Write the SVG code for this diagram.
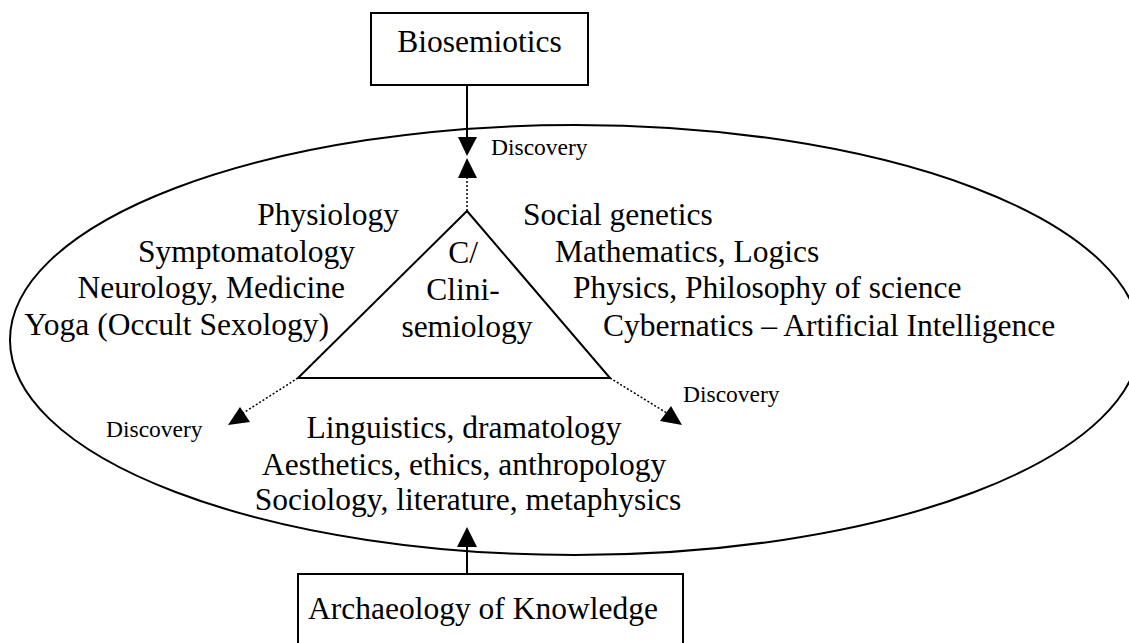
<svg xmlns="http://www.w3.org/2000/svg" width="1129" height="643" viewBox="0 0 1129 643">
<style>
text{font-family:"Liberation Serif","Times New Roman",serif;fill:#000}
.t{font-size:31.5px}
.s{font-size:23.5px}
.box{fill:#fff;stroke:#000;stroke-width:2}
.solid{stroke:#000;stroke-width:2;fill:none}
.dot{stroke:#000;stroke-width:1.5;fill:none;stroke-dasharray:2 2}
.head{fill:#000}
</style>
<rect width="1129" height="643" fill="#fff"/>
<g id="field">
<ellipse cx="575" cy="340" rx="565" ry="215" fill="none" stroke="#000" stroke-width="2"/>
</g>
<g id="connectors">
<line class="solid" x1="467" y1="85" x2="467" y2="140"/>
<polygon class="head" points="458,137 477,137 467,156"/>
<line class="dot" x1="467" y1="211" x2="467" y2="176"/>
<polygon class="head" points="458,178 477,178 467,158"/>
<line class="dot" x1="298" y1="378" x2="240" y2="415"/>
<polygon class="head" points="228,425 240,407 250,422"/>
<line class="dot" x1="610" y1="378" x2="670" y2="415"/>
<polygon class="head" points="682,425 660,421 671,406"/>
<line class="solid" x1="467" y1="574" x2="467" y2="545"/>
<polygon class="head" points="457,547 477,547 467,527"/>
</g>
<g id="biosemiotics">
<rect class="box" x="371" y="13" width="217" height="72"/>
<text class="t" x="479.5" y="52" text-anchor="middle">Biosemiotics</text>
</g>
<g id="archaeology">
<rect class="box" x="298" y="574" width="385" height="75"/>
<text class="t" x="483" y="619" text-anchor="middle">Archaeology of Knowledge</text>
</g>
<g id="clinisemiology">
<polygon points="467,211 610,378 298,378" fill="none" stroke="#000" stroke-width="2"/>
<text class="t" text-anchor="middle">
<tspan x="467" y="263">C/</tspan>
<tspan x="467" y="300">Clini-</tspan>
<tspan x="467" y="337">semiology</tspan>
</text>
</g>
<g id="left-disciplines">
<text class="t" x="399" y="225" text-anchor="end">Physiology</text>
<text class="t" x="355" y="262" text-anchor="end">Symptomatology</text>
<text class="t" x="345" y="298" text-anchor="end">Neurology, Medicine</text>
<text class="t" x="329" y="335" text-anchor="end">Yoga (Occult Sexology)</text>
</g>
<g id="right-disciplines">
<text class="t" x="523" y="225">Social genetics</text>
<text class="t" x="555" y="262">Mathematics, Logics</text>
<text class="t" x="573" y="298">Physics, Philosophy of science</text>
<text class="t" x="603" y="336">Cybernatics – Artificial Intelligence</text>
</g>
<g id="bottom-disciplines">
<text class="t" text-anchor="middle">
<tspan x="468" y="438">Linguistics, dramatology</tspan>
<tspan x="468" y="475">Aesthetics, ethics, anthropology</tspan>
<tspan x="468" y="510">Sociology, literature, metaphysics</tspan>
</text>
</g>
<g id="labels">
<text class="s" x="491" y="155">Discovery</text>
<text class="s" x="683" y="402">Discovery</text>
<text class="s" x="106" y="437">Discovery</text>
</g>
</svg>
